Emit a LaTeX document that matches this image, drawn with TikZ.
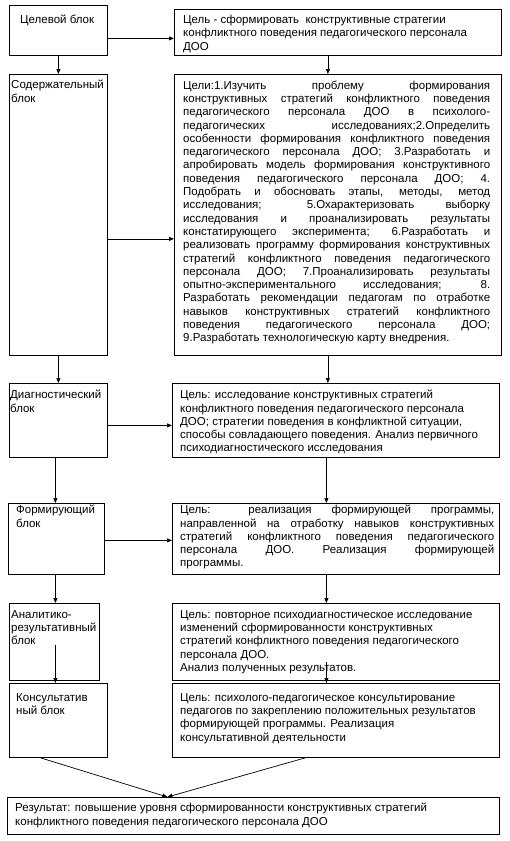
\documentclass[tikz,border=0pt]{standalone}
\usepackage{fontspec}
\setmainfont{Liberation Sans}
\usetikzlibrary{positioning,arrows.meta}
\tikzset{
  blk/.style={draw,line width=0.8pt,inner sep=0pt,anchor=north west},
  btxt/.style={font=\fontsize{11.5pt}{13.3pt}\selectfont,inner sep=0pt,anchor=north west,align=left},
  jtxt/.style={btxt,align=justify},
  conn/.style={line width=0.7pt,-{Triangle[length=5pt,width=4pt]}},
  every picture/.style={x=1pt,y=-1pt}
}

\begin{document}
\begin{tikzpicture}
\useasboundingbox (0,0) rectangle (509,841);
\node[blk,minimum width=98pt,minimum height=50pt] (tgl) at (9,5) {};
\node[blk,minimum width=327pt,minimum height=46pt] (tgoal) at (174,9) {};
\node[blk,minimum width=98pt,minimum height=281pt] (tcnt) at (9,74) {};
\node[blk,minimum width=327pt,minimum height=281pt] (tgoals) at (174,74) {};
\node[blk,minimum width=98pt,minimum height=74pt] (tdiag) at (9,383) {};
\node[blk,minimum width=327pt,minimum height=74pt] (tdiagg) at (172,383) {};
\node[blk,minimum width=96pt,minimum height=71pt] (tform) at (8,503) {};
\node[blk,minimum width=327pt,minimum height=71pt] (tformg) at (172,503) {};
\node[blk,minimum width=90pt,minimum height=77pt] (tanl) at (9,603) {};
\node[blk,minimum width=327pt,minimum height=77pt] (tanlg) at (172,603) {};
\node[blk,minimum width=98pt,minimum height=74pt] (tcons) at (9,683) {};
\node[blk,minimum width=327pt,minimum height=74pt] (tconsg) at (172,683) {};
\node[blk,minimum width=492pt,minimum height=37pt] (tres) at (7,797) {};
\coordinate (mrg) at ([xshift=-86pt]tres.north);

\node[btxt] (tglt) at (20,15) {Целевой блок};
\node[btxt] (tgoalt) at (183,15) {Цель - сформировать\ \ конструктивные стратегии\\конфликтного поведения педагогического персонала\\ДОО};
\node[btxt] (tcntt) at (11,80) {Содержательный\\блок};
\node[jtxt,text width=307pt] (tgoalst) at (183,80.5) {Цели:1.Изучить проблему формирования\linebreak
 конструктивных стратегий конфликтного поведения\linebreak
 педагогического персонала ДОО в психолого-\linebreak
 педагогических исследованиях;2.Определить\linebreak
 особенности формирования конфликтного поведения\linebreak
 педагогического персонала ДОО; 3.Разработать и\linebreak
 апробировать модель формирования конструктивного\linebreak
 поведения педагогического персонала ДОО; 4.\linebreak
 Подобрать и обосновать этапы, методы, метод\linebreak
 исследования; 5.Охарактеризовать выборку\linebreak
 исследования и проанализировать результаты\linebreak
 констатирующего эксперимента; 6.Разработать и\linebreak
 реализовать программу формирования конструктивных\linebreak
 стратегий конфликтного поведения педагогического\linebreak
 персонала ДОО; 7.Проанализировать результаты\linebreak
 опытно-экспериментального исследования; 8.\linebreak
 Разработать рекомендации педагогам по отработке\linebreak
 навыков конструктивных стратегий конфликтного\linebreak
 поведения педагогического персонала ДОО;\linebreak
 9.Разработать технологическую карту внедрения.};
\node[btxt] (tdiagt) at (10,390) {Диагностический\\блок};
\node[btxt] (tdiaggt) at (180,390) {Цель: исследование конструктивных стратегий\\конфликтного поведения педагогического персонала\\ДОО; стратегии поведения в конфликтной ситуации,\\способы совладающего поведения. Анализ первичного\\психодиагностического исследования};
\node[btxt] (tformt) at (16,505) {Формирующий\\блок};
\node[jtxt,text width=314pt] (tformgt) at (180,505) {Цель: реализация формирующей программы,\linebreak
 направленной на отработку навыков конструктивных\linebreak
 стратегий конфликтного поведения педагогического\linebreak
 персонала ДОО. Реализация формирующей\linebreak
 программы.};
\node[btxt] (tanlt) at (11,610) {Аналитико-\\результативный\\блок};
\node[btxt] (tanlgt) at (180,610) {Цель: повторное психодиагностическое исследование\\изменений сформированности конструктивных\\стратегий конфликтного поведения педагогического\\персонала ДОО.\\Анализ полученных результатов.};
\node[btxt] (tconst) at (16,693) {Консультатив\\ный блок};
\node[btxt] (tconsgt) at (180,693) {Цель: психолого-педагогическое консультирование\\педагогов по закреплению положительных результатов\\формирующей программы. Реализация\\консультативной деятельности};
\node[btxt] (trest) at (15,803) {Результат: повышение уровня сформированности конструктивных стратегий\\конфликтного поведения педагогического персонала ДОО};

\draw[conn] ([yshift=-8pt]tgl.east) -- ([yshift=-6pt]tgoal.west);
\draw[conn] (tgl.south) -- (tcnt.north);
\draw[conn] ([xshift=-10pt]tgoal.south) -- ([xshift=-10pt]tgoals.north);
\draw[conn] ([yshift=-24pt]tcnt.east) -- ([yshift=-24pt]tgoals.west);
\draw[conn] (tcnt.south) -- (tdiag.north);
\draw[conn] ([xshift=-10pt]tgoals.south) -- ([xshift=-8pt]tdiagg.north);
\draw[conn] ([yshift=-5pt]tdiag.east) -- ([yshift=-5pt]tdiagg.west);
\draw[conn] ([xshift=-3pt]tdiag.south) -- ([xshift=-1pt]tform.north);
\draw[conn] ([xshift=-9.5pt]tdiagg.south) -- ([xshift=-9.5pt]tformg.north);
\draw[conn] ([yshift=-1.5pt]tform.east) -- ([yshift=-1.5pt]tformg.west);
\draw[conn] ([xshift=-1pt]tform.south) -- ([xshift=1pt]tanl.north);
\draw[conn] ([xshift=-9.5pt]tformg.south) -- ([xshift=-9.5pt]tanlg.north);
\draw[conn] ([xshift=1pt,yshift=-3pt]tanl.center) -- ([xshift=-3pt]tcons.north);
\draw[conn] ([xshift=-9.5pt,yshift=-20pt]tanlg.center) -- ([xshift=-9.5pt]tconsg.north);
\draw[conn] ([xshift=-18pt]tcons.south) -- (mrg);
\draw[conn] ([xshift=-30.5pt]tconsg.south) -- (mrg);
\end{tikzpicture}
\end{document}
